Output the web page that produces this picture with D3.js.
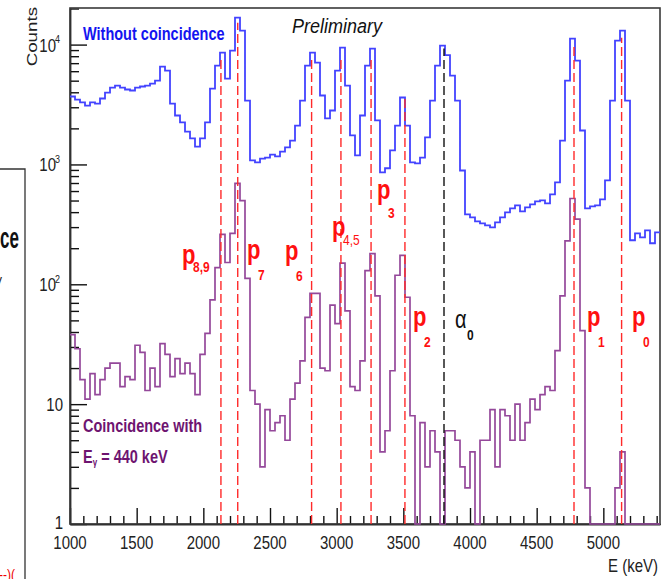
<!DOCTYPE html>
<html>
<head>
<meta charset="utf-8">
<script src="https://cdn.jsdelivr.net/npm/d3@7"></script>
<style>
    body { margin: 0; background: #fff; }
    svg { display: block; }
    text { font-family: "Liberation Sans", Arial, sans-serif; }
</style>
</head>
<body>
<svg id="chart" width="662" height="579"></svg>
<script>
// histogram binning (keV)
var binStart = 1000;
var binWidth = 37.5;

// counts per bin, without coincidence
var singles = [3690, 3480, 3290, 3100, 3290, 3220, 3550, 3980, 4380, 4550,
    4380, 4220, 4140, 4380, 4470, 4550, 4730, 5010, 6550, 6070,
    3220, 2560, 2240, 1880, 1650, 1410, 1650, 2240, 4300, 6680,
    8580, 5210, 8910, 16800, 13100, 3410, 1080, 1040, 1120, 1140,
    1210, 1170, 1280, 1390, 1580, 2110, 3410, 6680, 8580, 7080,
    3760, 2420, 2820, 6070, 9440, 4550, 1745, 1190, 2560, 6680,
    9260, 2330, 860, 930, 1310, 2110, 3620, 2110, 1040, 1020,
    1140, 1680, 3410, 6680, 9810, 8170, 5520, 3410, 890, 383,
    362, 335, 322, 310, 298, 329, 362, 398, 430, 455,
    406, 438, 464, 492, 501, 473, 562, 708, 1580, 5010,
    11200, 7360, 1920, 430, 447, 455, 511, 736, 3410, 10800,
    13100, 3410, 233, 266, 246, 282, 220, 271];

// counts per bin, coincidence with E_gamma = 440 keV
var coinc = [38, 29, 16, 11, 18, 12, 16, 20, 22, 22,
    14, 17, 16, 31, 27, 13, 20, 14, 32, 26,
    17, 24, 18, 22, 18, 12, 26, 39, 74, 138,
    261, 152, 266, 695, 500, 112, 13, 10, 3, 9,
    6, 7, 8, 5, 11, 15, 23, 53, 84, 84,
    20, 19, 67, 47, 150, 60, 14, 13, 23, 130,
    180, 80, 4, 6, 19, 119, 174, 78, 8, 0,
    7, 3, 6, 4, 0, 6, 6, 5, 3, 2,
    4, 0, 5, 5, 9, 3, 9, 8, 5, 10,
    5, 7, 11, 9, 12, 14, 13, 28, 80, 230,
    520, 350, 41, 2, 0, 0, 0, 0, 0, 2,
    4, 0, 0, 0, 0, 0, 0, 0];

// marked transitions
var peakNames = ["p", "p", "p", "p", "p", "p", "\u03b1", "p", "p"];
var peakSubs = ["8,9", "7", "6", "4,5", "3", "2", "0", "1", "0"];
var peakEnergies = [2132, 2258, 2812, 3032, 3258, 3512, 3805, 4780, 5137];
var peakTops = [7640, 15250, 7640, 7640, 7640, 3620, 9260, 10200, 11430];
// where each name sits (keV, counts) and how far down its index goes (px)
var labelEnergies = [1840, 2327, 2612, 2965, 3302, 3572, 3887, 4877, 5215];
var labelCounts = [147, 162, 160, 251, 511, 45, 43, 45, 45];
var labelSubDrop = [8, 21, 21, 9, 19, 21, 12, 21, 21];

var xTickValues = [1000, 1500, 2000, 2500, 3000, 3500, 4000, 4500, 5000];
var yTickValues = [1, 10, 100, 1000, 10000];
var yTickExps = ["", "", "2", "3", "4"];

var svg = d3.select("#chart"),
    margin = {top: 8, right: 2, bottom: 55, left: 70},
    width = +svg.attr("width") - margin.left - margin.right,
    height = +svg.attr("height") - margin.top - margin.bottom;

var x = d3.scaleLinear().domain([1000, 5425]).range([0, width]);
var y = d3.scaleLog().domain([1, 2.02e4]).range([height, 0]);

var stretch = 1.25;  // the original picture is squeezed a bit wider than tall

function stretchedText(parent, px, py, str) {
    return parent.append("text")
        .attr("transform", "translate(" + px + "," + py + ") scale(1," + stretch + ")")
        .text(str);
}

svg.append("rect").attr("width", 662).attr("height", 579).attr("fill", "#fff");

// remains of the neighbouring panel at the left edge
svg.append("path")
    .attr("d", "M0,169H25V579")
    .attr("fill", "none")
    .attr("stroke", "#333")
    .attr("stroke-width", 1.3);
svg.append("text")
    .attr("transform", "translate(0,248) scale(0.85,1.5)")
    .attr("font-size", 20)
    .attr("font-weight", "bold")
    .attr("fill", "#111")
    .text("ce");
svg.append("text")
    .attr("transform", "translate(-6,287) scale(1,1.25)")
    .attr("font-size", 12)
    .attr("fill", "#222")
    .text("V");
svg.append("text")
    .attr("transform", "translate(-1,580) scale(1,1.25)")
    .attr("font-size", 12)
    .attr("fill", "#e00")
    .text("--)(");

var g = svg.append("g")
    .attr("transform", "translate(" + margin.left + "," + margin.top + ")");

// axes: major and minor ticks pointing into the frame
var yMinor = [];
for (var k = 0; k < 5; k++) {
    for (var m = 2; m <= 9; m++) {
        if (m * Math.pow(10, k) < 2.02e4) yMinor.push(m * Math.pow(10, k));
    }
}
var xMinor = d3.range(1100, 5425, 100).filter(function (v) { return v % 500 !== 0; });

function styleAxis(sel) {
    sel.selectAll("line").attr("stroke", "#111").attr("stroke-width", 1.4);
    sel.selectAll("path").attr("stroke", "#111").attr("stroke-width", 1.4);
}

g.append("g")
    .call(d3.axisLeft(y).tickValues(yTickValues).tickSize(-17).tickSizeOuter(0).tickFormat(""))
    .call(styleAxis);
g.append("g")
    .call(d3.axisLeft(y).tickValues(yMinor).tickSize(-9).tickSizeOuter(0).tickFormat(""))
    .call(styleAxis);
g.append("g")
    .attr("transform", "translate(0," + height + ")")
    .call(d3.axisBottom(x).tickValues(xTickValues).tickSize(-16).tickSizeOuter(0).tickFormat(""))
    .call(styleAxis);
g.append("g")
    .attr("transform", "translate(0," + height + ")")
    .call(d3.axisBottom(x).tickValues(xMinor).tickSize(-8).tickSizeOuter(0).tickFormat(""))
    .call(styleAxis);

// frame
g.append("rect")
    .attr("width", width)
    .attr("height", height)
    .attr("fill", "none")
    .attr("stroke", "#3a3a3a")
    .attr("stroke-width", 1.6);

// tick labels
xTickValues.forEach(function (v) {
    stretchedText(g, x(v), height + 25, v)
        .attr("text-anchor", "middle")
        .attr("font-size", 15)
        .attr("fill", "#222");
});
yTickValues.forEach(function (v, i) {
    var t = stretchedText(g, yTickExps[i] ? -10 : -7, y(v) + (v === 1 ? 5 : 7), "")
        .attr("text-anchor", "end")
        .attr("font-size", 15)
        .attr("fill", "#222");
    t.append("tspan").text(yTickExps[i] ? "10" : String(v));
    if (yTickExps[i]) {
        t.append("tspan").attr("dx", -1).attr("dy", -7).attr("font-size", 9).text(yTickExps[i]);
    }
});

// axis titles
svg.append("text")
    .attr("transform", "translate(37,7) scale(1," + stretch + ") rotate(-90)")
    .attr("text-anchor", "end")
    .attr("font-size", 15)
    .attr("fill", "#222")
    .text("Counts");
stretchedText(svg, 658, 572, "E (keV)")
    .attr("text-anchor", "end")
    .attr("font-size", 15)
    .attr("fill", "#222");

// histograms
function histPath(values) {
    var pts = values.map(function (v, i) { return [binStart + i * binWidth, v]; });
    pts.push([binStart + values.length * binWidth, values[values.length - 1]]);
    return d3.line()
        .x(function (d) { return x(d[0]); })
        .y(function (d) { return d[1] > 0 ? y(d[1]) : y(1); })
        .curve(d3.curveStepAfter)(pts);
}

g.append("path")
    .attr("d", histPath(singles))
    .attr("fill", "none")
    .attr("stroke", "#4343ff")
    .attr("stroke-width", 1.8);

g.append("path")
    .attr("d", histPath(coinc))
    .attr("fill", "none")
    .attr("stroke", "#94489a")
    .attr("stroke-width", 1.7);

// dashed markers
g.selectAll(".marker")
    .data(peakEnergies)
    .enter().append("line")
    .attr("class", "marker")
    .attr("x1", function (d) { return x(d); })
    .attr("x2", function (d) { return x(d); })
    .attr("y1", y(1))
    .attr("y2", function (d, i) { return y(peakTops[i]); })
    .attr("stroke", function (d, i) { return peakNames[i] === "p" ? "#ff2a2a" : "#111"; })
    .attr("stroke-width", 1.4)
    .attr("stroke-dasharray", "9,4");

// marker names
peakNames.forEach(function (name, i) {
    var px = x(labelEnergies[i]), py = y(labelCounts[i]);
    var isProton = name === "p";
    stretchedText(g, px, py, name)
        .attr("font-size", isProton ? 22 : 20)
        .attr("font-weight", isProton ? "bold" : "normal")
        .attr("fill", isProton ? "#ff1010" : "#111");
    stretchedText(g, px + (isProton ? 11 : 12), py + labelSubDrop[i], peakSubs[i])
        .attr("font-size", 12)
        .attr("font-weight", peakSubs[i] === "4,5" ? "normal" : "bold")
        .attr("fill", isProton ? "#ff1010" : "#111");
});

// legends in the frame
stretchedText(svg, 83, 40, "Without coincidence")
    .attr("font-size", 14.5)
    .attr("font-weight", "bold")
    .attr("fill", "#1414f0");

stretchedText(svg, 292, 33, "Preliminary")
    .attr("font-family", "'Liberation Serif', 'Times New Roman', serif")
    .attr("font-style", "italic")
    .attr("font-size", 18)
    .attr("fill", "#111")
    .attr("transform", "translate(292,33) scale(1,1.1)");

stretchedText(svg, 83, 432, "Coincidence with")
    .attr("font-size", 14.5)
    .attr("font-weight", "bold")
    .attr("fill", "#6e1470");

var eg = stretchedText(svg, 83, 463, "")
    .attr("font-size", 14.5)
    .attr("font-weight", "bold")
    .attr("fill", "#6e1470");
eg.append("tspan").text("E");
eg.append("tspan").attr("font-size", 8).attr("dy", 2).text("\u03b3");
eg.append("tspan").attr("dy", -2).text(" = 440 keV");
</script>
</body>
</html>
